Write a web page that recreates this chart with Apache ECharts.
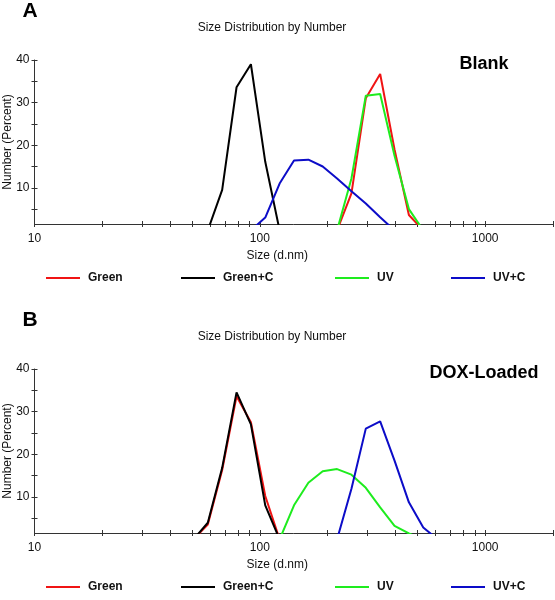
<!DOCTYPE html>
<html>
<head>
<meta charset="utf-8">
<script src="https://cdn.jsdelivr.net/npm/echarts@6/dist/echarts.min.js"></script>
<style>
html,body{margin:0;padding:0;background:#fff;}
#chart{width:555px;height:600px;}
</style>
</head>
<body>
<div id="chart"></div>
<script>
// Size bins (d.nm)
var sizeBins = [50.75, 58.77, 68.06, 78.82, 91.28, 105.7, 122.4, 141.8, 164.2, 190.1, 220.2, 255.0, 295.3, 342.0, 396.1, 458.7, 531.2, 615.1];

// Panel A: Blank
var blankGreen  = [null, null, null, null, null, null, null, null, null, null, 0, 8.7, 31.0, 36.7, 19.0, 3.6, 0, null];
var blankGreenC = [null, 0, 9.5, 33.6, 39.0, 16.1, 0, null, null, null, null, null, null, null, null, null, null, null];
var blankUV     = [null, null, null, null, null, null, null, null, null, null, 0, 12.2, 31.6, 32.0, 17.5, 5.0, 0, null];
var blankUVC    = [null, null, null, null, 0, 3.0, 11.0, 16.4, 16.6, 15.0, 12.2, 9.2, 6.3, 3.1, 0, null, null, null];

// Panel B: DOX-Loaded
var doxGreen  = [0, 3.5, 16.3, 33.6, 27.5, 10.2, 0, null, null, null, null, null, null, null, null, null, null, null];
var doxGreenC = [0, 3.9, 16.8, 34.5, 27.0, 8.0, 0, null, null, null, null, null, null, null, null, null, null, null];
var doxUV     = [null, null, null, null, null, null, 0, 8.0, 13.3, 16.0, 16.5, 15.2, 12.1, 7.5, 3.2, 1.4, 0, null];
var doxUVC    = [null, null, null, null, null, null, null, null, null, null, 0, 11.9, 26.0, 27.7, 18.5, 8.7, 2.8, 0];

var seriesNames = ['Green', 'Green+C', 'UV', 'UV+C'];
var seriesColors = ['#f01414', '#000000', '#1eec1e', '#0c0cc8'];

var xTickValues = [10, 20, 30, 40, 50, 60, 70, 80, 90, 100, 200, 300, 400, 500, 600, 700, 800, 900, 1000, 2000];
var xLabelValues = [10, 100, 1000];
var yTickValues = [5, 10, 15, 20, 25, 30, 35, 40];
var yLabelValues = [10, 20, 30, 40];

var panelTitles = ['A', 'B'];
var panelNames = ['Blank', 'DOX-Loaded'];
var chartTitle = 'Size Distribution by Number';
var xAxisName = 'Size (d.nm)';
var yAxisName = 'Number (Percent)';

var FONT = 'Liberation Sans, Arial, Helvetica, sans-serif';
var PANEL_DY = 309;
var GRID_TOP = 60, GRID_H = 164, GRID_LEFT = 34.5, GRID_RIGHT = 2;
var legendLeft = [46, 181, 335, 451];

function pairs(vals) {
  var out = [];
  for (var i = 0; i < sizeBins.length; i++) {
    if (vals[i] !== null) out.push([sizeBins[i], vals[i]]);
  }
  return out;
}

var grids = [], xAxes = [], yAxes = [], series = [], legends = [], graphics = [];
var panelData = [[blankGreen, blankGreenC, blankUV, blankUVC], [doxGreen, doxGreenC, doxUV, doxUVC]];

for (var p = 0; p < 2; p++) {
  var dy = p * PANEL_DY;
  grids.push({ left: GRID_LEFT, right: GRID_RIGHT, top: GRID_TOP + dy, height: GRID_H,
    containLabel: false, outerBoundsMode: 'none' });
  var xBase = {
    type: 'log', logBase: 10, min: 10, max: 2000, gridIndex: p, position: 'bottom',
    splitLine: { show: false }, minorTick: { show: false }, minorSplitLine: { show: false }
  };
  xAxes.push(Object.assign({}, xBase, {
    name: xAxisName, nameLocation: 'middle', nameGap: 26,
    nameTextStyle: { fontFamily: FONT, fontSize: 12, color: '#111', padding: [0, 33, 0, 0] },
    axisLine: { show: true, lineStyle: { color: '#333', width: 1 } },
    axisTick: { show: true, inside: false, length: 3, customValues: xTickValues, lineStyle: { color: '#333' } },
    axisLabel: { show: true, customValues: xLabelValues, margin: 9, fontFamily: FONT, fontSize: 12, color: '#111',
      formatter: function (v) { return String(Math.round(v)); } }
  }));
  xAxes.push(Object.assign({}, xBase, {
    axisLine: { show: false },
    axisTick: { show: true, inside: true, length: 3, customValues: xTickValues, lineStyle: { color: '#333' } },
    axisLabel: { show: false }
  }));
  var yBase = { type: 'value', min: 1.5, max: 40, gridIndex: p, position: 'left', splitLine: { show: false } };
  yAxes.push(Object.assign({}, yBase, {
    axisLine: { show: true, lineStyle: { color: '#333', width: 1 } },
    axisTick: { show: true, inside: false, length: 3, customValues: yTickValues, lineStyle: { color: '#333' } },
    axisLabel: { show: true, customValues: yLabelValues, margin: 5, fontFamily: FONT, fontSize: 12, color: '#111' }
  }));
  yAxes.push(Object.assign({}, yBase, {
    axisLine: { show: false },
    axisTick: { show: true, inside: true, length: 3, customValues: yTickValues, lineStyle: { color: '#333' } },
    axisLabel: { show: false }
  }));
  for (var s = 0; s < 4; s++) {
    series.push({
      type: 'line', name: seriesNames[s], xAxisIndex: p * 2, yAxisIndex: p * 2,
      data: pairs(panelData[p][s]), showSymbol: false, symbol: 'none', clip: true,
      lineStyle: { color: seriesColors[s], width: 2 }, itemStyle: { color: seriesColors[s] },
      animation: false, z: 2 + s
    });
    legends.push({
      data: [seriesNames[s]], left: legendLeft[s], top: 272 + dy, padding: 0, selectedMode: false,
      icon: 'rect', itemWidth: 34, itemHeight: 2,
      textStyle: { fontFamily: FONT, fontSize: 12, fontWeight: 'bold', color: '#111', padding: [0, 0, 0, 3] }
    });
  }
  graphics.push({ type: 'text', x: 30, y: 11 + dy,
    style: { text: panelTitles[p], font: 'bold 21px ' + FONT, fill: '#000', align: 'center', verticalAlign: 'middle' } });
  graphics.push({ type: 'text', x: 272, y: 28 + dy,
    style: { text: chartTitle, font: '12px ' + FONT, fill: '#111', align: 'center', verticalAlign: 'middle' } });
  graphics.push({ type: 'text', x: 484, y: 64 + dy,
    style: { text: panelNames[p], font: 'bold 18px ' + FONT, fill: '#000', align: 'center', verticalAlign: 'middle' } });
  graphics.push({ type: 'text', x: 8, y: GRID_TOP + GRID_H / 2 + dy, rotation: Math.PI / 2,
    style: { text: yAxisName, font: '12px ' + FONT, fill: '#111', align: 'center', verticalAlign: 'middle' } });
}

var chart = echarts.init(document.getElementById('chart'), null, { renderer: 'canvas' });
chart.setOption({
  backgroundColor: '#fff',
  animation: false,
  grid: grids,
  xAxis: xAxes,
  yAxis: yAxes,
  legend: legends,
  series: series,
  graphic: graphics
});
</script>
</body>
</html>
